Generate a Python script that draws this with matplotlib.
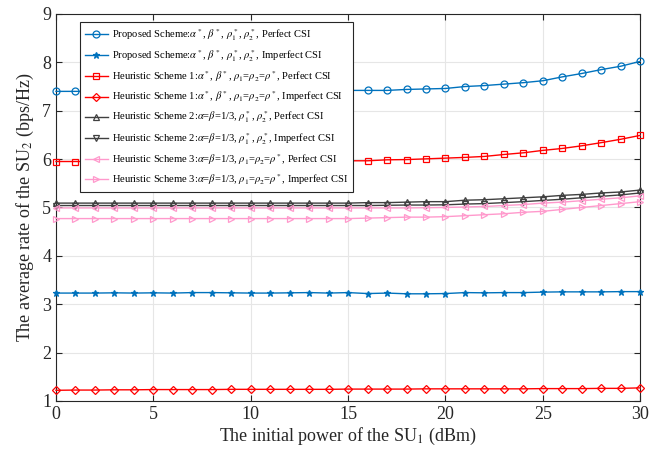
import numpy as np
import matplotlib
matplotlib.use("Agg")
import matplotlib.pyplot as plt

plt.rcParams['font.family'] = ['Liberation Serif', 'DejaVu Serif']
plt.rcParams['mathtext.fontset'] = 'stix'

power_dbm = list(range(0, 31))

proposed_perfect = [7.40, 7.40, 7.40, 7.40, 7.40, 7.40, 7.40, 7.40, 7.41, 7.41,
                    7.41, 7.41, 7.41, 7.41, 7.41, 7.42, 7.42, 7.42, 7.44, 7.45,
                    7.46, 7.50, 7.52, 7.55, 7.58, 7.62, 7.70, 7.77, 7.85, 7.92, 8.02]
proposed_imperfect = [3.23, 3.23, 3.23, 3.235, 3.23, 3.235, 3.23, 3.24, 3.24, 3.235,
                      3.23, 3.23, 3.235, 3.24, 3.23, 3.24, 3.22, 3.23, 3.215, 3.215,
                      3.22, 3.24, 3.235, 3.24, 3.24, 3.25, 3.255, 3.255, 3.255, 3.26, 3.26]
h1_perfect = [5.95, 5.95, 5.95, 5.95, 5.95, 5.95, 5.95, 5.95, 5.95, 5.95,
              5.95, 5.95, 5.96, 5.96, 5.96, 5.965, 5.965, 5.985, 5.99, 6.005,
              6.02, 6.035, 6.055, 6.095, 6.13, 6.18, 6.22, 6.275, 6.34, 6.41, 6.49]
h1_imperfect = [1.22, 1.225, 1.225, 1.23, 1.23, 1.235, 1.235, 1.235, 1.235, 1.24,
                1.24, 1.24, 1.24, 1.24, 1.24, 1.245, 1.245, 1.245, 1.245, 1.25,
                1.25, 1.25, 1.25, 1.25, 1.25, 1.255, 1.255, 1.255, 1.26, 1.26, 1.27]
h2_perfect = [5.09, 5.09, 5.09, 5.09, 5.09, 5.09, 5.09, 5.09, 5.09, 5.09,
              5.09, 5.09, 5.09, 5.09, 5.09, 5.09, 5.10, 5.10, 5.11, 5.12,
              5.12, 5.15, 5.16, 5.18, 5.20, 5.22, 5.25, 5.27, 5.30, 5.32, 5.36]
h2_imperfect = [5.04, 5.04, 5.04, 5.04, 5.04, 5.04, 5.04, 5.04, 5.04, 5.04,
                5.04, 5.04, 5.04, 5.04, 5.04, 5.04, 5.04, 5.045, 5.05, 5.05,
                5.055, 5.07, 5.08, 5.10, 5.12, 5.145, 5.17, 5.20, 5.23, 5.26, 5.30]
h3_perfect = [4.99, 4.99, 4.99, 4.99, 4.99, 4.99, 4.99, 4.99, 4.99, 4.99,
              4.99, 4.99, 4.99, 4.99, 4.99, 4.99, 4.99, 4.99, 4.99, 4.995,
              5.00, 5.01, 5.02, 5.04, 5.06, 5.09, 5.11, 5.14, 5.17, 5.20, 5.24]
h3_imperfect = [4.77, 4.77, 4.77, 4.77, 4.77, 4.77, 4.77, 4.77, 4.77, 4.77,
                4.77, 4.77, 4.77, 4.77, 4.77, 4.77, 4.78, 4.79, 4.80, 4.80,
                4.81, 4.83, 4.85, 4.87, 4.90, 4.92, 4.96, 5.00, 5.04, 5.08, 5.12]

series_labels = [
    r"Proposed Scheme:$\alpha^*$, $\beta^*$, $\rho_1^*$, $\rho_2^*$, Perfect CSI",
    r"Proposed Scheme:$\alpha^*$, $\beta^*$, $\rho_1^*$, $\rho_2^*$, Imperfect CSI",
    r"Heuristic Scheme 1:$\alpha^*$, $\beta^*$, $\rho_1$=$\rho_2$=$\rho^*$, Perfect CSI",
    r"Heuristic Scheme 1:$\alpha^*$, $\beta^*$, $\rho_1$=$\rho_2$=$\rho^*$, Imperfect CSI",
    r"Heuristic Scheme 2:$\alpha$=$\beta$=1/3, $\rho_1^*$, $\rho_2^*$, Perfect CSI",
    r"Heuristic Scheme 2:$\alpha$=$\beta$=1/3, $\rho_1^*$, $\rho_2^*$, Imperfect CSI",
    r"Heuristic Scheme 3:$\alpha$=$\beta$=1/3, $\rho_1$=$\rho_2$=$\rho^*$, Perfect CSI",
    r"Heuristic Scheme 3:$\alpha$=$\beta$=1/3, $\rho_1$=$\rho_2$=$\rho^*$, Imperfect CSI",
]

blue = '#0072BD'
red = '#FF0000'
dark = '#404040'
pink = '#FF99CC'

styles = [
    (proposed_perfect, blue, 'o', 5.0),
    (proposed_imperfect, blue, '*', 5.0),
    (h1_perfect, red, 's', 4.8),
    (h1_imperfect, red, 'D', 3.8),
    (h2_perfect, dark, '^', 5.0),
    (h2_imperfect, dark, 'v', 5.0),
    (h3_perfect, pink, '<', 5.0),
    (h3_imperfect, pink, '>', 5.0),
]

fig = plt.figure(figsize=(6.62, 4.51), dpi=100)
ax = fig.add_axes([0.0846, 0.111, 0.8825, 0.858])

for (vals, color, marker, ms), label in zip(styles, series_labels):
    face = color if marker == '*' else 'none'
    ax.plot(power_dbm, vals, color=color, marker=marker, markersize=ms,
            markerfacecolor=face, markeredgecolor=color, markeredgewidth=0.9,
            linewidth=1.0, label=label, clip_on=False, zorder=3)

ax.set_xlim(0, 30)
ax.set_ylim(1, 9)
ax.set_xticks(range(0, 31, 5))
ax.set_yticks(range(1, 10))
ax.grid(True, color='#E6E6E6', linewidth=0.8)
ax.set_axisbelow(True)
ax.tick_params(direction='in', length=4, width=0.8, labelsize=13,
               top=True, right=True, colors='#262626')
for sp in ax.spines.values():
    sp.set_color('#262626')
    sp.set_linewidth(0.8)

ax.set_xlabel(r"The initial power of the SU$_1$ (dBm)", fontsize=13,
              color='#262626', labelpad=2)
ax.set_ylabel(r"The average rate of the SU$_2$ (bps/Hz)", fontsize=13,
              color='#262626', labelpad=4)

leg = ax.legend(loc='upper left', bbox_to_anchor=(0.041, 0.979),
                borderaxespad=0, fontsize=7.6, handlelength=2.2,
                labelspacing=0.5, fancybox=False, framealpha=1,
                edgecolor='#262626', handletextpad=0.4, borderpad=0.45)
leg.get_frame().set_linewidth(0.8)

fig.savefig('out.png', dpi=100)
